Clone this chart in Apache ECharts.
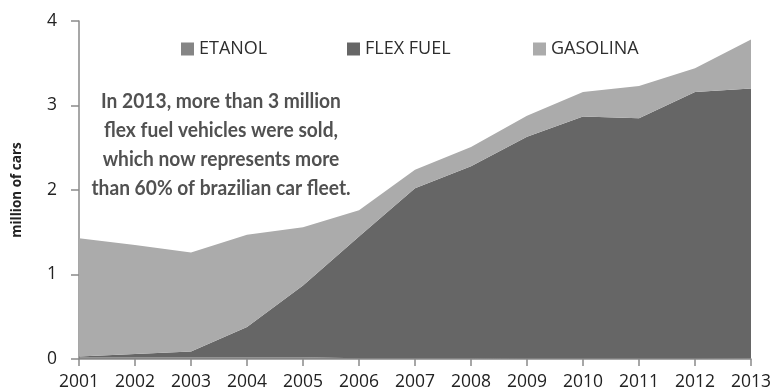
<!DOCTYPE html>
<html>
<head>
<meta charset="utf-8">
<script src="https://cdn.jsdelivr.net/npm/echarts@6/dist/echarts.min.js"></script>
<style>
  html, body { margin: 0; padding: 0; background: #fff; }
  #chart { width: 777px; height: 392px; }
</style>
</head>
<body>
<div id="chart"></div>
<script>
// Brazilian light-vehicle sales by fuel type, million cars per year
const years = ['2001','2002','2003','2004','2005','2006','2007','2008','2009','2010','2011','2012','2013'];
const etanol   = [0.02, 0.02, 0.02, 0.02, 0.02, 0.01, 0.01, 0.01, 0.005, 0.005, 0.005, 0.005, 0.005];
const flexFuel = [0.01, 0.04, 0.07, 0.36, 0.85, 1.44, 2.01, 2.27, 2.625, 2.865, 2.845, 3.155, 3.195];
const gasolina = [1.40, 1.29, 1.17, 1.09, 0.69, 0.31, 0.22, 0.23, 0.25, 0.29, 0.38, 0.28, 0.58];
const yTicks = [0, 1, 2, 3, 4];

const noteLines = [
  'In 2013, more than 3 million',
  'flex fuel vehicles were sold,',
  'which now represents more',
  'than 60% of brazilian car fleet.'
];

const colors = { etanol: '#858585', flex: '#666666', gasolina: '#ababab' };
const font = '"Open Sans", "DejaVu Sans", sans-serif';
const noteFont = 'Lato, "Open Sans", sans-serif';

const chart = echarts.init(document.getElementById('chart'), null, { renderer: 'canvas' });

function areaSeries(name, data, color) {
  return {
    name, type: 'line', stack: 'total', data,
    symbol: 'none', smooth: false,
    lineStyle: { width: 0 },
    areaStyle: { color, opacity: 1 },
    itemStyle: { color },
    emphasis: { disabled: true }
  };
}

function legendAt(left, name) {
  return {
    data: [name], left, top: 35,
    icon: 'rect', itemWidth: 13, itemHeight: 13, itemGap: 6,
    textStyle: { fontFamily: font, fontSize: 18, color: '#2e2e2e' },
    selectedMode: false
  };
}

chart.setOption({
  animation: false,
  backgroundColor: '#fff',
  grid: { left: 79, right: 26, top: 21, bottom: 33, containLabel: false },
  legend: [
    legendAt(176, 'ETANOL'),
    legendAt(342, 'FLEX FUEL'),
    legendAt(528, 'GASOLINA')
  ],
  xAxis: {
    type: 'category', data: years, boundaryGap: false,
    axisLine: { lineStyle: { color: '#8a8a8a', width: 1.5 } },
    axisTick: { show: true, length: 7, lineStyle: { color: '#8a8a8a', width: 1.5 } },
    axisLabel: { fontFamily: font, fontSize: 17.5, color: '#222', margin: 14 },
    splitLine: { show: false }
  },
  yAxis: {
    type: 'value', min: yTicks[0], max: yTicks[yTicks.length - 1], interval: 1,
    name: 'million of cars', nameLocation: 'middle', nameRotate: 90, nameGap: 55,
    nameTextStyle: { fontFamily: font, fontSize: 13.5, fontWeight: 'bold', color: '#222' },
    axisLine: { show: true, lineStyle: { color: '#8a8a8a', width: 1.5 } },
    axisTick: { show: true, length: 8, lineStyle: { color: '#8a8a8a', width: 1.5 } },
    axisLabel: { fontFamily: font, fontSize: 17.5, color: '#222', margin: 22 },
    splitLine: { show: false }
  },
  series: [
    areaSeries('ETANOL', etanol, colors.etanol),
    areaSeries('FLEX FUEL', flexFuel, colors.flex),
    areaSeries('GASOLINA', gasolina, colors.gasolina)
  ],
  graphic: noteLines.map((line, i) => ({
    type: 'text',
    x: 221, y: 102 + i * 29,
    scaleX: 0.96,
    style: {
      text: line, fill: '#515151',
      font: 'bold 20px ' + noteFont,
      textAlign: 'center', textVerticalAlign: 'middle'
    },
    z: 10
  }))
});
</script>
</body>
</html>
